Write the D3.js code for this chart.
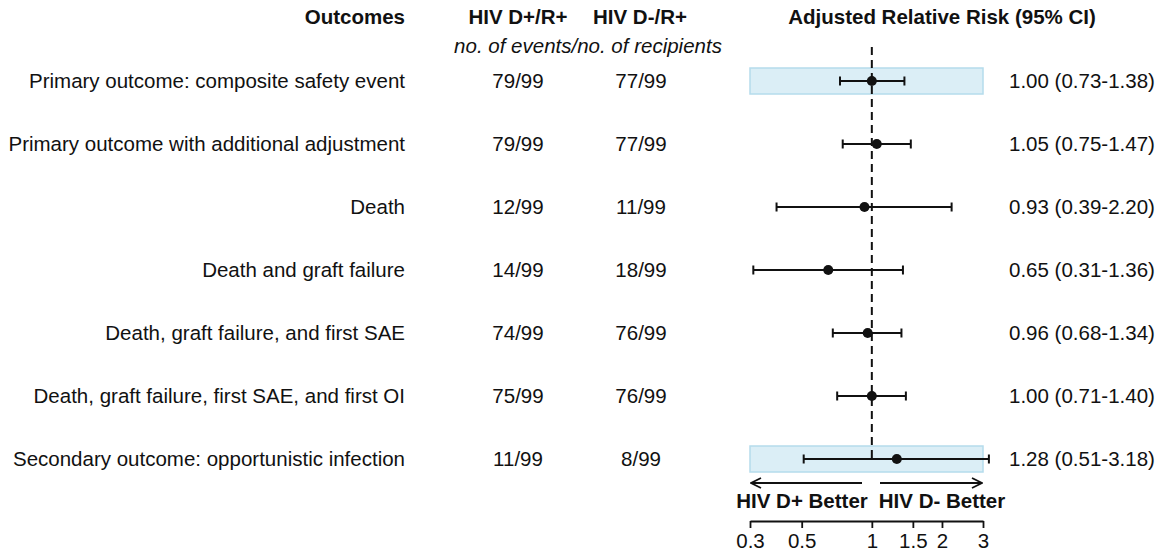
<!DOCTYPE html>
<html><head><meta charset="utf-8">
<script src="https://cdn.jsdelivr.net/npm/d3@7"></script>
<style>body{margin:0;background:#fff}text{font-family:"Liberation Sans",Arial,sans-serif;fill:#111}</style>
</head><body><svg id="c" width="1166" height="552"></svg>
<script>
const outcomes = ["Primary outcome: composite safety event","Primary outcome with additional adjustment","Death","Death and graft failure","Death, graft failure, and first SAE","Death, graft failure, first SAE, and first OI","Secondary outcome: opportunistic infection"];
const dPlus = ["79/99","79/99","12/99","14/99","74/99","75/99","11/99"];
const dMinus = ["77/99","77/99","11/99","18/99","76/99","76/99","8/99"];
const rr = [1.00,1.05,0.93,0.65,0.96,1.00,1.28];
const lo = [0.73,0.75,0.39,0.31,0.68,0.71,0.51];
const hi = [1.38,1.47,2.20,1.36,1.34,1.40,3.18];
const highlighted = [true,false,false,false,false,false,true];
const tickVals = [0.3,0.5,1,1.5,2,3];
const tickLabels = ["0.3","0.5","1","1.5","2","3"];

const svg = d3.select("#c");
const x = d3.scaleLog().domain([0.3,3]).range([750,983]);
const y = d3.scaleLinear().domain([0,6]).range([81,459]);
const fs = 20.5;

// headers
svg.append("text").attr("x",405).attr("y",24).attr("text-anchor","end").attr("font-weight","bold").attr("font-size",fs).text("Outcomes");
svg.append("text").attr("x",518).attr("y",24).attr("text-anchor","middle").attr("font-weight","bold").attr("font-size",fs).text("HIV D+/R+");
svg.append("text").attr("x",640).attr("y",24).attr("text-anchor","middle").attr("font-weight","bold").attr("font-size",fs).text("HIV D-/R+");
svg.append("text").attr("x",588).attr("y",53).attr("text-anchor","middle").attr("font-style","italic").attr("font-size",fs).text("no. of events/no. of recipients");
svg.append("text").attr("x",942).attr("y",24).attr("text-anchor","middle").attr("font-weight","bold").attr("font-size",fs).text("Adjusted Relative Risk (95% CI)");

// highlight boxes
outcomes.forEach((o,i)=>{
  if(highlighted[i]) svg.append("rect").attr("x",x(0.3)).attr("y",y(i)-13).attr("width",x(3)-x(0.3)).attr("height",26)
    .attr("fill","#dbeef6").attr("stroke","#b5dcec").attr("stroke-width",1.5);
});

// reference line
svg.append("line").attr("x1",x(1)).attr("x2",x(1)).attr("y1",47).attr("y2",y(6)).attr("stroke","#111").attr("stroke-width",2).attr("stroke-dasharray","8,5");

const g = svg.append("g");
outcomes.forEach((o,i)=>{
  const yy = y(i);
  g.append("text").attr("x",405).attr("y",yy+7).attr("text-anchor","end").attr("font-size",fs).text(o);
  g.append("text").attr("x",518).attr("y",yy+7).attr("text-anchor","middle").attr("font-size",fs).text(dPlus[i]);
  g.append("text").attr("x",641).attr("y",yy+7).attr("text-anchor","middle").attr("font-size",fs).text(dMinus[i]);
  g.append("text").attr("x",1009).attr("y",yy+7).attr("font-size",fs).text(rr[i].toFixed(2)+" ("+lo[i].toFixed(2)+"-"+hi[i].toFixed(2)+")");
  g.append("line").attr("x1",x(lo[i])).attr("x2",x(hi[i])).attr("y1",yy).attr("y2",yy).attr("stroke","#111").attr("stroke-width",2);
  [lo[i],hi[i]].forEach(v=>g.append("line").attr("x1",x(v)).attr("x2",x(v)).attr("y1",yy-4.5).attr("y2",yy+4.5).attr("stroke","#111").attr("stroke-width",2));
  g.append("circle").attr("cx",x(rr[i])).attr("cy",yy).attr("r",5).attr("fill","#111");
});

// arrows
const ay = 483;
svg.append("defs").append("marker").attr("id","ah").attr("viewBox","0 0 12 12").attr("refX",11).attr("refY",6)
  .attr("markerWidth",12).attr("markerHeight",12).attr("markerUnits","userSpaceOnUse").attr("orient","auto")
  .append("path").attr("d","M1,1 L11,6 L1,11").attr("fill","none").attr("stroke","#111").attr("stroke-width",1.8);
svg.append("line").attr("x1",862).attr("x2",751).attr("y1",ay).attr("y2",ay).attr("stroke","#111").attr("stroke-width",1.8).attr("marker-end","url(#ah)");
svg.append("line").attr("x1",880).attr("x2",982).attr("y1",ay).attr("y2",ay).attr("stroke","#111").attr("stroke-width",1.8).attr("marker-end","url(#ah)");
svg.append("text").attr("x",802).attr("y",508).attr("text-anchor","middle").attr("font-weight","bold").attr("font-size",fs).text("HIV D+ Better");
svg.append("text").attr("x",942).attr("y",508).attr("text-anchor","middle").attr("font-weight","bold").attr("font-size",fs).text("HIV D- Better");

// axis
const ax = svg.append("g").attr("transform","translate(0,521)")
  .call(d3.axisBottom(x).tickValues(tickVals).tickFormat((d,i)=>tickLabels[i]).tickSize(7).tickSizeOuter(0));
ax.select(".domain").attr("stroke","#111").attr("stroke-width",1.8);
ax.selectAll(".tick line").attr("stroke","#111").attr("stroke-width",1.8);
ax.selectAll(".tick text").attr("font-size",fs).attr("font-family","Liberation Sans, Arial, sans-serif").attr("fill","#111").attr("dy","0.85em");
</script></body></html>
